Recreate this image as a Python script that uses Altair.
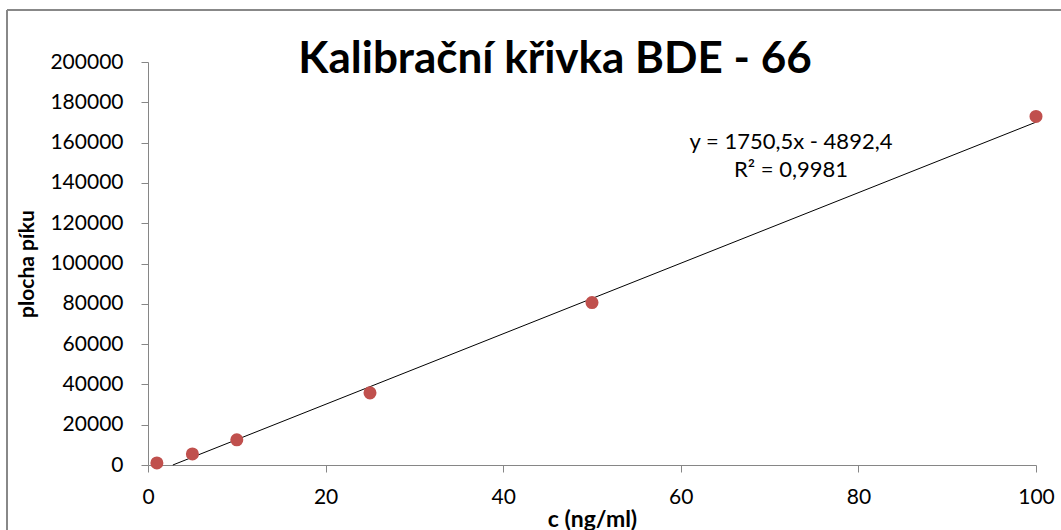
import altair as alt
import pandas as pd

# data
conc = [1, 5, 10, 25, 50, 100]
area = [1000, 5500, 12500, 35800, 80600, 173000]

# trendline given by the chart's equation
slope = 1750.5
intercept = -4892.4
trend_x = [-intercept / slope, 100]
trend_y = [slope * x + intercept for x in trend_x]

title_text = "Kalibrační křivka BDE - 66"
eq_line1 = "y = 1750,5x - 4892,4"
eq_line2 = "R² = 0,9981"
x_ticks = [0, 20, 40, 60, 80, 100]
y_ticks = list(range(0, 200001, 20000))

FONT = "Lato"
W, H = 888, 403

pts = pd.DataFrame({"c": conc, "a": area})
tr = pd.DataFrame({"c": trend_x, "a": trend_y})

xs = alt.Scale(domain=[0, 100], nice=False)
ys = alt.Scale(domain=[0, 200000], nice=False)

xaxis = alt.Axis(values=x_ticks, grid=False, title="c (ng/ml)", titleFont=FONT,
                 titleFontSize=23, titleFontWeight="bold", titleColor="black",
                 labelFont=FONT, labelFontSize=21, labelColor="black", labelPadding=14,
                 labelFlush=False,
                 domainColor="#868686", tickColor="#868686", tickSize=7, titlePadding=1,
                 format="d")
yaxis = alt.Axis(values=y_ticks, grid=False, title="plocha píku", titleFont=FONT,
                 titleFontSize=21, titleFontWeight="bold", titleColor="black",
                 labelFont=FONT, labelFontSize=21, labelColor="black", labelPadding=18,
                 labelFlush=False,
                 domainColor="#868686", tickColor="#868686", tickSize=7, titlePadding=12,
                 format="d")

line = alt.Chart(tr).mark_line(color="black", strokeWidth=1).encode(
    x=alt.X("c:Q", scale=xs, axis=xaxis),
    y=alt.Y("a:Q", scale=ys, axis=yaxis),
)
points = alt.Chart(pts).mark_circle(size=170, color="#C0504D", opacity=1).encode(
    x=alt.X("c:Q", scale=xs),
    y=alt.Y("a:Q", scale=ys),
)

title = alt.Chart(pd.DataFrame({"t": [title_text]})).mark_text(
    font=FONT, fontSize=44, fontWeight="bold", color="black", baseline="middle", align="center"
).encode(text="t:N", x=alt.value(407), y=alt.value(-2))

eq1 = alt.Chart(pd.DataFrame({"t": [eq_line1]})).mark_text(
    font=FONT, fontSize=22, color="black", baseline="middle", align="center"
).encode(text="t:N", x=alt.value(643), y=alt.value(80))
eq2 = alt.Chart(pd.DataFrame({"t": [eq_line2]})).mark_text(
    font=FONT, fontSize=22, color="black", baseline="middle", align="center"
).encode(text="t:N", x=alt.value(643), y=alt.value(108))

frame_top = alt.Chart(pd.DataFrame({"k": [0]})).mark_rule(color="#888888", strokeWidth=2).encode(
    x=alt.value(-141), x2=alt.value(W + 30), y=alt.value(-52))
frame_left = alt.Chart(pd.DataFrame({"k": [0]})).mark_rule(color="#888888", strokeWidth=2).encode(
    x=alt.value(-141), y=alt.value(-52), y2=alt.value(H + 80))

chart = alt.layer(frame_top, frame_left, line, points, eq1, eq2, title).properties(
    width=W, height=H, autosize="none",
    padding={"left": 148, "top": 62, "right": 25, "bottom": 65},
).configure_view(stroke=None)

chart.save("out.html", embed_options={"renderer": "svg", "actions": False})
